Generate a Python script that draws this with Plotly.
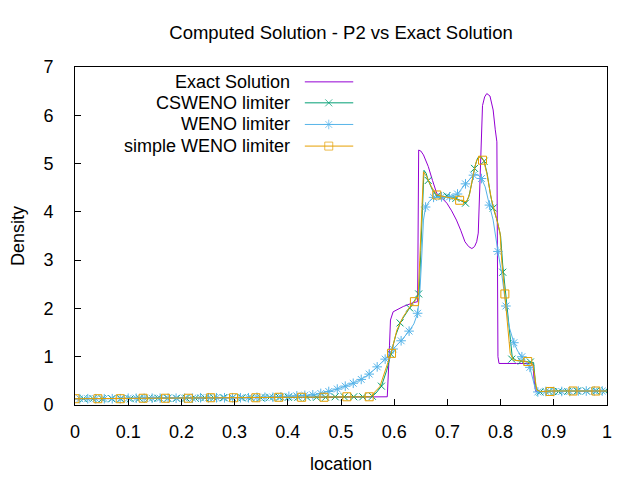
import plotly.graph_objects as go

# exact solution
exact_x = [0.0, 0.2, 0.4, 0.5, 0.587, 0.590, 0.593, 0.598, 0.617, 0.636, 0.644, 0.646,
           0.650, 0.655, 0.664, 0.672, 0.680, 0.690, 0.699, 0.708, 0.717, 0.725, 0.733,
           0.740, 0.746, 0.751, 0.755, 0.758, 0.761, 0.763, 0.766, 0.770, 0.774, 0.780,
           0.786, 0.790, 0.793, 0.795, 0.797, 0.830, 0.858, 0.861, 0.863, 0.866, 0.90, 1.0]
exact_y = [0.13, 0.14, 0.15, 0.16, 0.17, 0.9, 1.76, 1.93, 2.04, 2.12, 2.14, 5.28,
           5.26, 5.18, 4.94, 4.65, 4.38, 4.28, 4.18, 4.02, 3.83, 3.62, 3.38,
           3.28, 3.24, 3.28, 3.38, 3.56, 4.6, 5.6, 6.2, 6.38, 6.45, 6.40,
           6.11, 5.7, 5.45, 1.0, 0.86, 0.86, 0.86, 0.84, 0.5, 0.28, 0.28, 0.28]

# CSWENO limiter
cs_x = [0.0, 0.3, 0.5, 0.555, 0.566, 0.576, 0.586, 0.594, 0.603, 0.613, 0.630, 0.640,
        0.647, 0.650, 0.653, 0.656, 0.660, 0.664, 0.672, 0.681, 0.690, 0.699, 0.710,
        0.722, 0.734, 0.740, 0.746, 0.752, 0.757, 0.763, 0.769, 0.775, 0.781, 0.787,
        0.794, 0.800, 0.804, 0.808, 0.812, 0.818, 0.822, 0.830, 0.850, 0.862, 0.866,
        0.870, 0.90, 1.0]
cs_y = [0.13, 0.15, 0.16, 0.17, 0.25, 0.39, 0.72, 1.05, 1.45, 1.74, 2.02, 2.18,
        2.31, 3.2, 4.2, 4.86, 4.80, 4.65, 4.45, 4.33, 4.30, 4.33, 4.30,
        4.25, 4.18, 4.30, 4.60, 4.95, 5.12, 5.15, 5.05, 4.78, 4.35, 4.05,
        3.80, 3.50, 2.90, 2.45, 2.00, 1.35, 0.98, 0.92, 0.90, 0.88, 0.40,
        0.27, 0.29, 0.29]
cs_mx = [0.016, 0.034, 0.051, 0.069, 0.086, 0.104, 0.121, 0.139, 0.156, 0.174, 0.191,
         0.209, 0.226, 0.244, 0.261, 0.279, 0.296, 0.314, 0.331, 0.349, 0.366, 0.384,
         0.401, 0.419, 0.436, 0.454, 0.471, 0.489, 0.506, 0.524, 0.541, 0.559, 0.576,
         0.594, 0.611, 0.629, 0.646, 0.664, 0.681, 0.699, 0.716, 0.734, 0.751, 0.769,
         0.786, 0.804, 0.821, 0.839, 0.856, 0.874, 0.891, 0.909, 0.926, 0.944, 0.961,
         0.979, 0.996]
cs_my = [0.13, 0.13, 0.13, 0.13, 0.13, 0.13, 0.14, 0.14, 0.14, 0.14, 0.14,
         0.14, 0.14, 0.15, 0.15, 0.15, 0.15, 0.15, 0.15, 0.15, 0.16, 0.16,
         0.16, 0.16, 0.16, 0.16, 0.16, 0.17, 0.17, 0.17, 0.17, 0.18, 0.39,
         1.05, 1.70, 2.01, 2.30, 4.65, 4.33, 4.33, 4.28, 4.18, 4.90, 5.05,
         4.08, 2.75, 0.95, 0.91, 0.89, 0.27, 0.28, 0.28, 0.28, 0.29, 0.29,
         0.29, 0.29]

# WENO limiter
we_x = [0.0, 0.2, 0.35, 0.42, 0.447, 0.462, 0.477, 0.493, 0.508, 0.523, 0.538, 0.553,
        0.568, 0.583, 0.598, 0.613, 0.628, 0.637, 0.644, 0.648, 0.651, 0.655, 0.659,
        0.666, 0.674, 0.689, 0.704, 0.719, 0.734, 0.749, 0.757, 0.764, 0.771, 0.779,
        0.786, 0.795, 0.802, 0.810, 0.816, 0.825, 0.832, 0.840, 0.848, 0.855, 0.861,
        0.866, 0.872, 0.90, 1.0]
we_y = [0.13, 0.14, 0.16, 0.19, 0.21, 0.24, 0.28, 0.33, 0.39, 0.45, 0.53, 0.64,
        0.79, 0.95, 1.16, 1.33, 1.53, 1.68, 1.90, 2.3, 2.9, 3.83, 4.10,
        4.22, 4.30, 4.31, 4.31, 4.37, 4.58, 4.76, 4.78, 4.69, 4.52, 4.14,
        3.83, 3.18, 2.73, 2.05, 1.62, 1.29, 1.12, 1.00, 0.88, 0.78, 0.52,
        0.30, 0.27, 0.28, 0.29]
we_mx = [0.009, 0.024, 0.039, 0.055, 0.070, 0.085, 0.100, 0.115, 0.130, 0.145, 0.160,
         0.175, 0.190, 0.206, 0.221, 0.236, 0.251, 0.266, 0.281, 0.296, 0.311, 0.326,
         0.342, 0.357, 0.372, 0.387, 0.402, 0.417, 0.432, 0.447, 0.462, 0.477, 0.493,
         0.508, 0.523, 0.538, 0.553, 0.568, 0.583, 0.598, 0.613, 0.628, 0.644, 0.659,
         0.674, 0.689, 0.704, 0.719, 0.734, 0.749, 0.764, 0.779, 0.795, 0.810, 0.825,
         0.840, 0.855, 0.870, 0.885, 0.900, 0.915, 0.930, 0.946, 0.961, 0.976, 0.991]
we_my = [0.13, 0.13, 0.13, 0.13, 0.13, 0.13, 0.14, 0.14, 0.14, 0.14, 0.14,
         0.14, 0.14, 0.14, 0.14, 0.15, 0.15, 0.15, 0.15, 0.15, 0.15, 0.15,
         0.16, 0.16, 0.16, 0.17, 0.18, 0.19, 0.20, 0.21, 0.24, 0.28, 0.33,
         0.39, 0.45, 0.53, 0.64, 0.79, 0.95, 1.16, 1.33, 1.53, 1.90, 4.10,
         4.30, 4.31, 4.31, 4.37, 4.58, 4.76, 4.69, 4.14, 3.18, 2.05, 1.29,
         1.00, 0.78, 0.27, 0.28, 0.28, 0.28, 0.28, 0.29, 0.29, 0.29, 0.29]

# simple WENO limiter
sw_x = [0.0, 0.3, 0.5, 0.555, 0.573, 0.586, 0.594, 0.605, 0.617, 0.630, 0.638, 0.645,
        0.648, 0.652, 0.655, 0.661, 0.670, 0.680, 0.699, 0.721, 0.736, 0.742, 0.749,
        0.755, 0.761, 0.768, 0.774, 0.783, 0.793, 0.799, 0.802, 0.807, 0.811, 0.818,
        0.824, 0.849, 0.861, 0.868, 0.875, 0.90, 1.0]
sw_y = [0.13, 0.15, 0.16, 0.17, 0.38, 0.79, 1.07, 1.55, 1.83, 2.04, 2.14, 2.24,
        3.0, 4.11, 4.83, 4.73, 4.52, 4.35, 4.31, 4.25, 4.21, 4.38, 4.80,
        5.07, 5.14, 5.07, 4.80, 4.25, 3.83, 3.56, 3.0, 2.38, 1.83, 1.07,
        0.93, 0.90, 0.83, 0.31, 0.28, 0.29, 0.29]
sw_mx = [0.0, 0.043, 0.085, 0.128, 0.170, 0.213, 0.255, 0.298, 0.340, 0.383, 0.426,
         0.468, 0.511, 0.553, 0.595, 0.638, 0.680, 0.723, 0.766, 0.808, 0.851, 0.893,
         0.936, 0.979]
sw_my = [0.13, 0.13, 0.13, 0.14, 0.14, 0.14, 0.15, 0.15, 0.15, 0.16, 0.16,
         0.16, 0.17, 0.17, 1.07, 2.14, 4.35, 4.24, 5.07, 2.30, 0.90, 0.28,
         0.29, 0.29]

x_ticks = [0, 0.1, 0.2, 0.3, 0.4, 0.5, 0.6, 0.7, 0.8, 0.9, 1]
x_labels = ["0", "0.1", "0.2", "0.3", "0.4", "0.5", "0.6", "0.7", "0.8", "0.9", "1"]
y_ticks = [0, 1, 2, 3, 4, 5, 6, 7]

names = ["Exact Solution", "CSWENO limiter", "WENO limiter", "simple WENO limiter"]
colors = ["#9400d3", "#009e73", "#56b4e9", "#e69f00"]
symbols = [None, "x-thin", "asterisk-open", "square-open"]
msizes = [0, 7, 8, 8]

FONT = "Liberation Sans, Arial, sans-serif"

fig = go.Figure()

series = [(exact_x, exact_y, None, None),
          (cs_x, cs_y, cs_mx, cs_my),
          (we_x, we_y, we_mx, we_my),
          (sw_x, sw_y, sw_mx, sw_my)]

for i, (lx, ly, mx, my) in enumerate(series):
    fig.add_trace(go.Scatter(x=lx, y=ly, mode="lines",
                             line=dict(color=colors[i], width=1), showlegend=False,
                             hoverinfo="skip"))
    if mx is not None:
        fig.add_trace(go.Scatter(x=mx, y=my, mode="markers", showlegend=False,
                                 marker=dict(symbol=symbols[i], size=msizes[i], color=colors[i],
                                             line=dict(color=colors[i], width=1)),
                                 hoverinfo="skip"))

# gnuplot-style key: text right aligned, sample on the right
key_y = [0.956, 0.894, 0.830, 0.766]
for i, name in enumerate(names):
    fig.add_annotation(x=0.408, y=key_y[i], xref="x2", yref="y2", text=name,
                       showarrow=False, xanchor="right", yanchor="middle",
                       font=dict(family=FONT, size=18, color="black"))
    fig.add_trace(go.Scatter(x=[0.432, 0.477, 0.523], y=[key_y[i]] * 3,
                             xaxis="x2", yaxis="y2", mode="lines+markers",
                             line=dict(color=colors[i], width=1), showlegend=False,
                             marker=dict(symbol=symbols[i] or "circle",
                                         size=[0, msizes[i], 0], color=colors[i],
                                         line=dict(color=colors[i], width=1)),
                             hoverinfo="skip"))

fig.update_layout(
    width=632, height=472,
    margin=dict(l=67, r=33, t=59, b=75),
    paper_bgcolor="white", plot_bgcolor="white",
    font=dict(family=FONT, size=18, color="black"),
    title=dict(text="Computed Solution - P2 vs Exact Solution", x=0.5, xref="paper",
               xanchor="center", y=0.947, yanchor="middle",
               font=dict(family=FONT, size=18.5)),
    xaxis=dict(range=[0, 1], tickvals=x_ticks, ticktext=x_labels, ticks="inside",
               ticklen=6, tickcolor="black", showline=True, linecolor="black",
               linewidth=1, mirror=True, showgrid=False, zeroline=False,
               ticklabelstandoff=10, automargin=False,
               title=dict(text="location", standoff=16,
                          font=dict(family=FONT, size=18))),
    yaxis=dict(range=[0, 7], tickvals=y_ticks, ticks="inside", ticklen=6,
               tickcolor="black", showline=True, linecolor="black", linewidth=1,
               mirror=True, showgrid=False, zeroline=False, ticklabelstandoff=17,
               automargin=False,
               title=dict(text="Density", standoff=26,
                          font=dict(family=FONT, size=18))),
    xaxis2=dict(overlaying="x", range=[0, 1], visible=False),
    yaxis2=dict(overlaying="y", range=[0, 1], visible=False),
)

fig.write_html("out.html")
